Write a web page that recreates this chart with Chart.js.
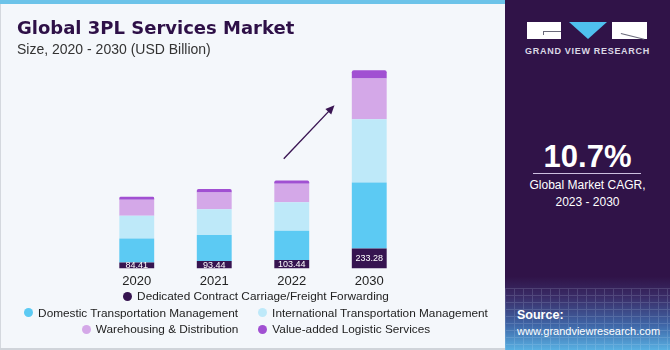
<!DOCTYPE html>
<html>
<head>
<meta charset="utf-8">
<script src="https://cdn.jsdelivr.net/npm/chart.js@4.4.1/dist/chart.umd.min.js"></script>
<style>
  body { margin: 0; width: 670px; height: 350px; overflow: hidden; font-family: "Liberation Sans", Arial, sans-serif; }
  #wrap { position: relative; width: 670px; height: 350px; background: #f4f7fb; }
  #topbar { position: absolute; left: 0; top: 0; width: 505px; height: 4px; background: #6cc3e9; }
  #leftline { position: absolute; left: 0; top: 4px; width: 1px; height: 346px; background: #d4d8de; }
  #bottomline { position: absolute; left: 0; top: 348px; width: 505px; height: 2px; background: #d0d4da; }
  #title { position: absolute; left: 17px; top: 17px; font-family: "DejaVu Sans", sans-serif; font-size: 18px; font-weight: bold; color: #2e1047; }
  #subtitle { position: absolute; left: 17px; top: 41px; font-size: 14px; color: #333; }
  #chartbox { position: absolute; left: 0; top: 0; width: 505px; height: 296px; }
  #legend { position: absolute; left: 0; top: 288px; width: 512px; font-size: 11.8px; color: #222; }
  .lrow { display: flex; justify-content: center; height: 16.5px; align-items: center; }
  .litem { display: flex; align-items: center; margin: 0 10px; white-space: nowrap; }
  .dot { width: 9px; height: 9px; border-radius: 50%; margin-right: 5px; }
  #side { position: absolute; left: 505px; top: 0; width: 165px; height: 350px;
    background: linear-gradient(to bottom, #301348 0%, #301348 79%, #3a2d68 85%, #3f67a8 93%, #58b0e2 100%); overflow: hidden; }
  #grid { position: absolute; left: 0; top: 288px; width: 165px; height: 62px; opacity: 0.15;
    background-image: repeating-linear-gradient(to right, #d8ecff 0 1px, transparent 1px 9px), repeating-linear-gradient(to bottom, #d8ecff 0 1px, transparent 1px 7px); }
  .logo-box { position: absolute; top: 22px; height: 17px; background: #fff; }
  .mark { position: absolute; background: #6a6a7a; }
  #tri { position: absolute; left: 64px; top: 22px; width: 0; height: 0; border-left: 19px solid transparent; border-right: 19px solid transparent; border-top: 17px solid #4fc0ee; }
  #gvr { position: absolute; left: 0; width: 165px; top: 46px; text-align: center; font-size: 9px; font-weight: bold; color: #dcd8e6; letter-spacing: 0.7px; }
  #cagr { position: absolute; left: 0; width: 165px; top: 139px; text-align: center; font-size: 31px; font-weight: bold; color: #fff; }
  #rule { position: absolute; left: 28px; top: 173px; width: 108px; height: 1px; background: #cdbfe0; }
  #cagrtxt { position: absolute; left: 0; width: 165px; top: 177px; text-align: center; font-size: 12px; color: #fff; line-height: 17px; }
  #src { position: absolute; left: 12px; top: 307px; font-size: 11px; color: #fff; line-height: 16px; }
</style>
</head>
<body>
<div id="wrap">
  <div id="topbar"></div>
  <div id="leftline"></div>
  <div id="bottomline"></div>
  <div id="chartbox"><canvas id="myChart"></canvas></div>
  <div id="title">Global 3PL Services Market</div>
  <div id="subtitle">Size, 2020 - 2030 (USD Billion)</div>
  <div id="legend"></div>
  <div id="side">
    <div id="grid"></div>
    <div class="logo-box" style="left:22px;width:34px;"></div>
    <div class="mark" style="left:38px;top:31px;width:18px;height:1px;"></div>
    <div class="mark" style="left:38px;top:31px;width:1px;height:4px;"></div>
    <div id="tri"></div>
    <div class="logo-box" style="left:107px;width:35px;"></div>
    <div class="mark" style="left:116px;top:33px;width:24px;height:1px;transform:rotate(14deg);transform-origin:0 0;"></div>
    <div id="gvr">GRAND VIEW RESEARCH</div>
    <div id="cagr">10.7%</div>
    <div id="rule"></div>
    <div id="cagrtxt">Global Market CAGR,<br>2023 - 2030</div>
    <div id="src"><b style="font-size:12.5px">Source:</b><br>www.grandviewresearch.com</div>
  </div>
</div>
<script>
var years = ["2020", "2021", "2022", "2030"];
var totals = [84.41, 93.44, 103.44, 233.28];
var seriesNames = [
  "Dedicated Contract Carriage/Freight Forwarding",
  "Domestic Transportation Management",
  "International Transportation Management",
  "Warehousing & Distribution",
  "Value-added Logistic Services"
];
var seriesColors = ["#361450", "#5ccaf3", "#bee9f9", "#d4a8e8", "#a150d2"];
var dedicated = [7.0, 8.6, 9.8, 23.5];
var domestic = [28.1, 30.7, 34.4, 77.6];
var international = [27.0, 30.4, 33.6, 74.5];
var warehousing = [18.8, 19.7, 21.7, 47.9];
var valueAdded = [3.51, 4.04, 3.94, 9.78];
var seriesData = [dedicated, domestic, international, warehousing, valueAdded];

// legend rows like the original (1 / 2 / 2)
var legendRows = [[0], [1, 2], [3, 4]];
var lg = document.getElementById("legend");
legendRows.forEach(function (row) {
  var r = document.createElement("div");
  r.className = "lrow";
  row.forEach(function (i) {
    r.innerHTML += '<div class="litem"><span class="dot" style="background:' + seriesColors[i] + '"></span>' + seriesNames[i] + '</div>';
  });
  lg.appendChild(r);
});

var datasets = seriesData.map(function (d, i) {
  return {
    label: seriesNames[i],
    data: d,
    backgroundColor: seriesColors[i],
    borderWidth: 0,
    borderSkipped: false,
    borderRadius: i == 4 ? { topLeft: 2, topRight: 2 } : 0,
    categoryPercentage: 0.45,
    barPercentage: 1
  };
});

var labelsAndArrow = {
  id: "labelsAndArrow",
  afterDatasetsDraw: function (chart) {
    var ctx = chart.ctx;
    var meta = chart.getDatasetMeta(0);
    ctx.save();
    ctx.fillStyle = "#fff";
    ctx.font = "9px 'Liberation Sans', Arial, sans-serif";
    ctx.textAlign = "center";
    ctx.textBaseline = "middle";
    meta.data.forEach(function (bar, i) {
      ctx.fillText(totals[i].toFixed(2), bar.x, (bar.y + bar.base) / 2 + 0.5);
    });
    // trend arrow
    var xs = chart.scales.x, ys = chart.scales.y;
    var x1 = xs.getPixelForValue(2) - 8, y1 = ys.getPixelForValue(129);
    var x2 = (xs.getPixelForValue(2) + xs.getPixelForValue(3)) / 2 + 4, y2 = ys.getPixelForValue(192);
    var ang = Math.atan2(y2 - y1, x2 - x1);
    ctx.strokeStyle = "#3a1553";
    ctx.fillStyle = "#3a1553";
    ctx.lineWidth = 1.4;
    ctx.beginPath();
    ctx.moveTo(x1, y1);
    ctx.lineTo(x2 - 6 * Math.cos(ang), y2 - 6 * Math.sin(ang));
    ctx.stroke();
    ctx.beginPath();
    ctx.moveTo(x2, y2);
    ctx.lineTo(x2 - 9 * Math.cos(ang) + 4 * Math.sin(ang), y2 - 9 * Math.sin(ang) - 4 * Math.cos(ang));
    ctx.lineTo(x2 - 9 * Math.cos(ang) - 4 * Math.sin(ang), y2 - 9 * Math.sin(ang) + 4 * Math.cos(ang));
    ctx.closePath();
    ctx.fill();
    ctx.restore();
  }
};

var ctx = document.getElementById("myChart").getContext("2d");
var myChart = new Chart(ctx, {
  type: "bar",
  data: { labels: years, datasets: datasets },
  options: {
    responsive: true,
    maintainAspectRatio: false,
    animation: false,
    layout: { padding: { left: 98, right: 97, top: 56, bottom: 2 } },
    plugins: { legend: { display: false }, tooltip: { enabled: false } },
    scales: {
      x: {
        stacked: true,
        grid: { display: false, drawTicks: false },
        border: { display: false },
        ticks: { color: "#222", padding: 5, font: { size: 13, family: "'Liberation Sans', Arial, sans-serif" } }
      },
      y: {
        stacked: true,
        display: false,
        min: 0,
        max: 250
      }
    }
  },
  plugins: [labelsAndArrow]
});
</script>
</body>
</html>
